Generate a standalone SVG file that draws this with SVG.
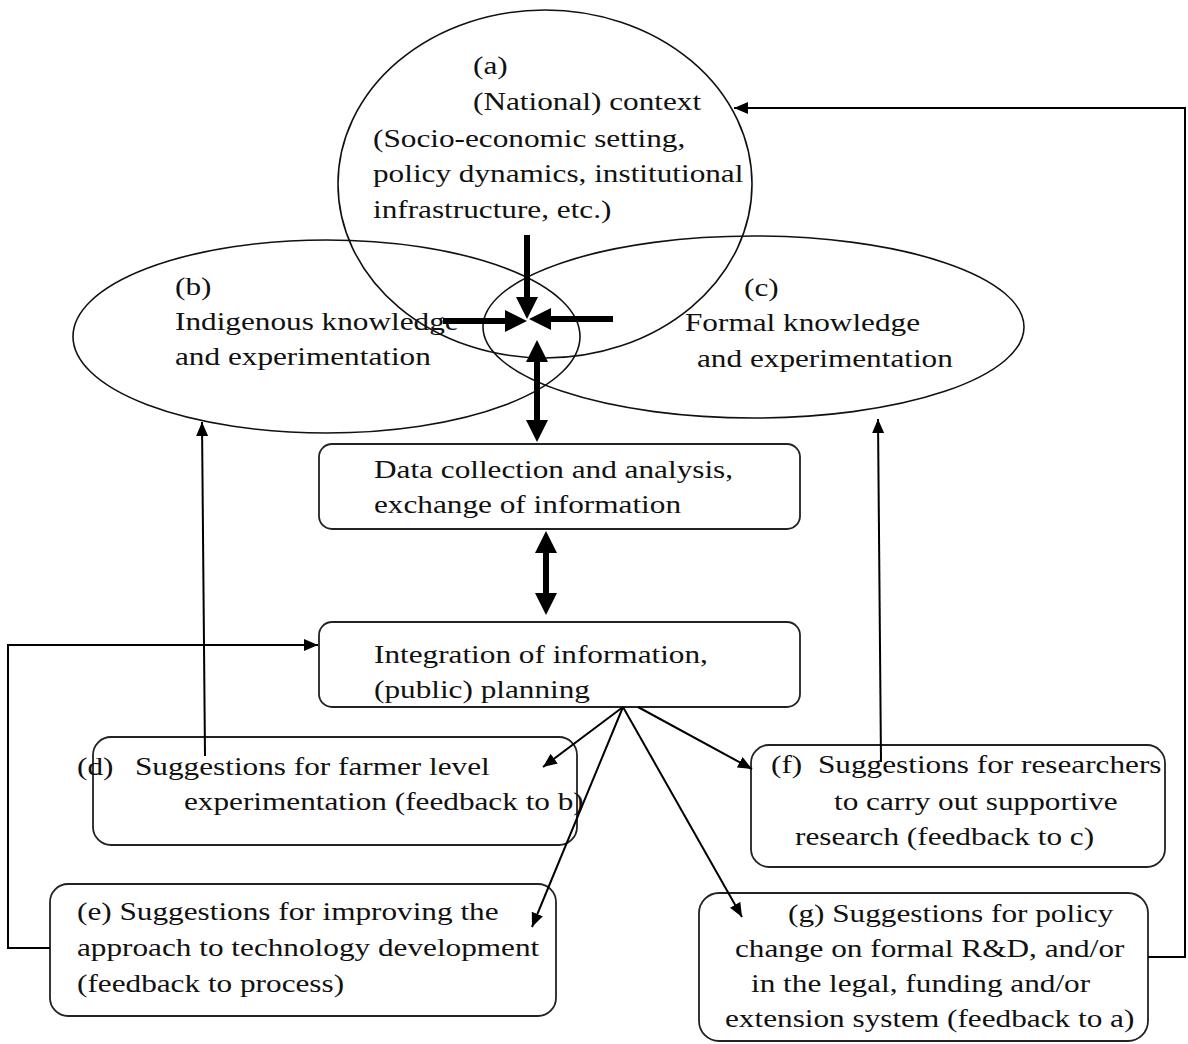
<svg xmlns="http://www.w3.org/2000/svg" width="1188" height="1044" viewBox="0 0 1188 1044">
<style>
  text { font-family: "Liberation Serif", "Times New Roman", serif; font-size: 25px; fill: #111; }
  .ell { fill: none; stroke: #111; stroke-width: 1.6; }
  .box { fill: none; stroke: #222; stroke-width: 1.8; }
  .thin { fill: none; stroke: #000; stroke-width: 2; }
  .thick { fill: none; stroke: #000; stroke-width: 6; }
</style>
<defs>
  <marker id="ah" viewBox="0 0 14 12" refX="14" refY="6" markerWidth="14" markerHeight="12" markerUnits="userSpaceOnUse" orient="auto">
    <path d="M0,0 L14,6 L0,12 z" fill="#000"/>
  </marker>
  <marker id="th" viewBox="0 0 22 22" refX="0" refY="11" markerWidth="22" markerHeight="22" markerUnits="userSpaceOnUse" orient="auto-start-reverse">
    <path d="M0,0 L22,11 L0,22 z" fill="#000"/>
  </marker>
</defs>
<rect width="1188" height="1044" fill="#fff"/>

<g id="node-a">
  <ellipse class="ell" cx="545" cy="184" rx="207" ry="174"/>
  <text transform="matrix(1.25 0 0 1 473 74)">(a)</text>
  <text transform="matrix(1.25 0 0 1 473 110)">(National) context</text>
  <text transform="matrix(1.25 0 0 1 373 147)">(Socio-economic setting,</text>
  <text transform="matrix(1.25 0 0 1 373 182)">policy dynamics, institutional</text>
  <text transform="matrix(1.25 0 0 1 373 218)">infrastructure, etc.)</text>
</g>

<g id="node-b">
  <ellipse class="ell" cx="326.5" cy="336.5" rx="253.5" ry="96.5"/>
  <text transform="matrix(1.25 0 0 1 175 295)">(b)</text>
  <text transform="matrix(1.25 0 0 1 175 330)">Indigenous knowledge</text>
  <text transform="matrix(1.25 0 0 1 175 365)">and experimentation</text>
</g>

<g id="node-c">
  <ellipse class="ell" cx="753.5" cy="327" rx="270.5" ry="91"/>
  <text transform="matrix(1.25 0 0 1 744 296)">(c)</text>
  <text transform="matrix(1.25 0 0 1 685 331)">Formal knowledge</text>
  <text transform="matrix(1.25 0 0 1 697 367)">and experimentation</text>
</g>

<g id="node-data">
  <rect class="box" x="319" y="444" width="481" height="85" rx="13"/>
  <text transform="matrix(1.25 0 0 1 374 478)">Data collection and analysis,</text>
  <text transform="matrix(1.25 0 0 1 374 513)">exchange of information</text>
</g>

<g id="node-integration">
  <rect class="box" x="319" y="622" width="481" height="85" rx="13"/>
  <text transform="matrix(1.25 0 0 1 374 663)">Integration of information,</text>
  <text transform="matrix(1.25 0 0 1 374 698)">(public) planning</text>
</g>

<g id="node-d">
  <rect class="box" x="93" y="737" width="484" height="108" rx="18"/>
  <text transform="matrix(1.25 0 0 1 77 775)">(d)</text>
  <text transform="matrix(1.25 0 0 1 135 775)">Suggestions for farmer level</text>
  <text transform="matrix(1.25 0 0 1 184 810)">experimentation (feedback to b)</text>
</g>

<g id="node-e">
  <rect class="box" x="50" y="884" width="506" height="132" rx="18"/>
  <text transform="matrix(1.25 0 0 1 77 920)">(e) Suggestions for improving the</text>
  <text transform="matrix(1.25 0 0 1 77 956)">approach to technology development</text>
  <text transform="matrix(1.25 0 0 1 77 992)">(feedback to process)</text>
</g>

<g id="node-f">
  <rect class="box" x="751" y="745" width="414" height="122" rx="18"/>
  <text transform="matrix(1.25 0 0 1 771 773)">(f)</text>
  <text transform="matrix(1.25 0 0 1 818 773)">Suggestions for researchers</text>
  <text transform="matrix(1.25 0 0 1 834 810)">to carry out supportive</text>
  <text transform="matrix(1.25 0 0 1 795 845)">research (feedback to c)</text>
</g>

<g id="node-g">
  <rect class="box" x="699" y="893" width="449" height="148" rx="20"/>
  <text transform="matrix(1.25 0 0 1 788 922)">(g) Suggestions for policy</text>
  <text transform="matrix(1.25 0 0 1 735 957)">change on formal R&amp;D, and/or</text>
  <text transform="matrix(1.25 0 0 1 751 992)">in the legal, funding and/or</text>
  <text transform="matrix(1.25 0 0 1 725 1027)">extension system (feedback to a)</text>
</g>

<g id="connectors">
  <!-- thick arrows into the centre -->
  <line class="thick" x1="527" y1="235" x2="527" y2="297" marker-end="url(#th)"/>
  <line class="thick" x1="443" y1="321" x2="505" y2="321" marker-end="url(#th)"/>
  <line class="thick" x1="613" y1="319" x2="551" y2="319" marker-end="url(#th)"/>
  <line class="thick" x1="537" y1="362" x2="537" y2="420" marker-start="url(#th)" marker-end="url(#th)"/>
  <line class="thick" x1="546" y1="553" x2="546" y2="593" marker-start="url(#th)" marker-end="url(#th)"/>

  <!-- fan from integration box -->
  <line class="thin" x1="623" y1="707" x2="543" y2="767" marker-end="url(#ah)"/>
  <line class="thin" x1="623" y1="707" x2="532" y2="927" marker-end="url(#ah)"/>
  <line class="thin" x1="638" y1="707" x2="752" y2="769" marker-end="url(#ah)"/>
  <line class="thin" x1="623" y1="707" x2="742" y2="917" marker-end="url(#ah)"/>

  <!-- feedback to b and c -->
  <line class="thin" x1="205" y1="756" x2="202" y2="422" marker-end="url(#ah)"/>
  <line class="thin" x1="881" y1="762" x2="878" y2="419" marker-end="url(#ah)"/>

  <!-- feedback to process -->
  <polyline class="thin" points="50,948 8,948 8,645 318,645" marker-end="url(#ah)"/>

  <!-- feedback to a -->
  <polyline class="thin" points="1148,957 1185,957 1185,108 734,108" marker-end="url(#ah)"/>
</g>
</svg>
